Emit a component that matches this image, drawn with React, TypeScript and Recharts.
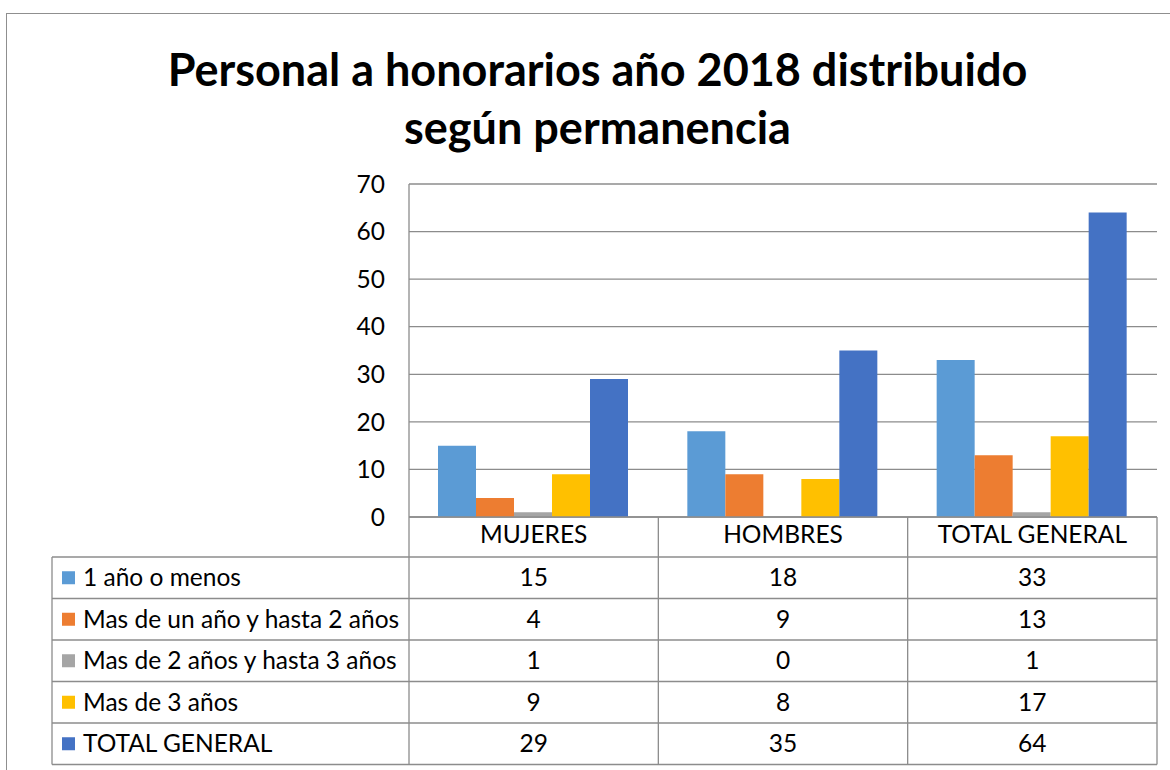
import React from 'react';
import { BarChart, Bar, XAxis, YAxis, CartesianGrid } from 'recharts';

const categories = ['MUJERES', 'HOMBRES', 'TOTAL GENERAL'];
const seriesNames = [
  '1 año o menos',
  'Mas de un año y hasta 2 años',
  'Mas de 2 años y hasta 3 años',
  'Mas de 3 años',
  'TOTAL GENERAL',
];
const unAnoOMenos = [15, 18, 33];
const masDeUnAno = [4, 9, 13];
const masDeDosAnos = [1, 0, 1];
const masDeTresAnos = [9, 8, 17];
const totalGeneral = [29, 35, 64];
const yTicks = [0, 10, 20, 30, 40, 50, 60, 70];

const seriesValues = [unAnoOMenos, masDeUnAno, masDeDosAnos, masDeTresAnos, totalGeneral];
const keys = ['s0', 's1', 's2', 's3', 's4'];
const colors = ['#5B9BD5', '#ED7D31', '#A5A5A5', '#FFC000', '#4472C4'];

const data = categories.map((cat, i) => {
  const row: any = { cat };
  keys.forEach((k, s) => {
    row[k] = seriesValues[s][i];
  });
  return row;
});

const FONT = "Lato, 'Open Sans', sans-serif";
const W = 1170;
const H = 770;
// plot area
const PL = 409;
const PR = 1157;
const PT = 184;
const PB = 517;
const Y_AXIS_W = 60;
const X_AXIS_H = 40;
// table
const TL = 52;
const rowTops = [557, 598.5, 640, 681.5, 723, 764.5];
const lineColor = '#8c8c8c';
const textSize = 24.5;

const DataTable = () => {
  const colW = (PR - PL) / categories.length;
  const colX = categories.map((_, i) => PL + colW * i);
  return (
    <svg width={W} height={H} style={{ position: 'absolute', left: 0, top: 0, pointerEvents: 'none' }}>
      {/* header row verticals */}
      {[...colX, PR].map((x, i) => (
        <line key={'hv' + i} x1={x} x2={x} y1={PB} y2={rowTops[0]} stroke={lineColor} strokeWidth={1.3} />
      ))}
      <line x1={PL} x2={PR} y1={PB} y2={PB} stroke={lineColor} strokeWidth={1.3} />
      {/* body horizontals */}
      {rowTops.map((y, i) => (
        <line key={'h' + i} x1={TL} x2={PR} y1={y} y2={y} stroke={lineColor} strokeWidth={1.3} />
      ))}
      {/* body verticals */}
      {[TL, ...colX, PR].map((x, i) => (
        <line key={'v' + i} x1={x} x2={x} y1={rowTops[0]} y2={rowTops[rowTops.length - 1]} stroke={lineColor} strokeWidth={1.3} />
      ))}
      {seriesNames.map((name, s) => {
        const cy = (rowTops[s] + rowTops[s + 1]) / 2;
        return (
          <g key={'r' + s}>
            <rect x={62} y={cy - 6.5} width={13} height={13} fill={colors[s]} />
            <text x={83} y={cy + 8.5} fontSize={textSize} fontFamily={FONT} fill="#000">
              {name}
            </text>
            {seriesValues[s].map((v, i) => (
              <text key={i} x={colX[i] + colW / 2} y={cy + 8.5} fontSize={textSize} fontFamily={FONT} fill="#000" textAnchor="middle">
                {v}
              </text>
            ))}
          </g>
        );
      })}
    </svg>
  );
};

export default function App() {
  return (
    <div style={{ position: 'absolute', left: 0, top: 0, width: W, height: H, overflow: 'hidden', background: '#fff' }}>
      <div style={{ position: 'absolute', left: 6, top: 13, width: 1300, height: 900, border: '1.5px solid #8f8f8f' }} />
      <div
        style={{
          position: 'absolute',
          left: 0,
          width: 1195,
          top: 40,
          textAlign: 'center',
          fontFamily: FONT,
          fontWeight: 700,
          fontSize: 45,
          lineHeight: '58px',
          color: '#000',
        }}
      >
        Personal a honorarios año 2018 distribuido
        <br />
        según permanencia
      </div>
      <div style={{ position: 'absolute', left: 0, top: 0 }}>
        <BarChart
          width={W}
          height={H}
          data={data}
          margin={{ top: PT, right: W - PR, left: PL - Y_AXIS_W, bottom: H - PB - X_AXIS_H }}
          barCategoryGap={29}
          barGap={0}
        >
          <CartesianGrid vertical={false} stroke={lineColor} strokeWidth={1.3} />
          <YAxis
            width={Y_AXIS_W}
            domain={[0, 70]}
            ticks={yTicks}
            tickLine={false}
            axisLine={{ stroke: lineColor, strokeWidth: 1.3 }}
            tickMargin={18}
            tick={{ fontSize: textSize, fontFamily: FONT, fill: '#000' }}
          />
          <XAxis
            dataKey="cat"
            height={X_AXIS_H}
            tickLine={false}
            axisLine={false}
            tickMargin={3}
            tick={{ fontSize: textSize, fontFamily: FONT, fill: '#000' }}
          />
          {keys.map((k, s) => (
            <Bar key={k} dataKey={k} name={seriesNames[s]} fill={colors[s]} isAnimationActive={false} />
          ))}
        </BarChart>
      </div>
      <DataTable />
    </div>
  );
}
